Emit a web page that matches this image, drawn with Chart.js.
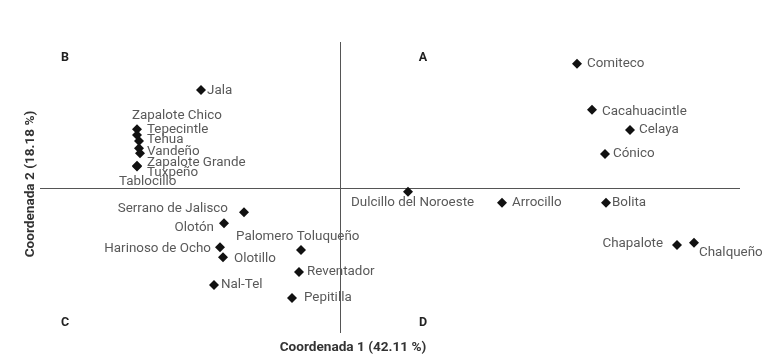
<!DOCTYPE html>
<html>
<head>
<meta charset="utf-8">
<script src="https://cdn.jsdelivr.net/npm/chart.js@4.4.0/dist/chart.umd.min.js"></script>
<style>
  html, body { margin: 0; padding: 0; background: #fff; }
  #wrap { width: 779px; height: 357px; }
</style>
</head>
<body>
<div id="wrap"><canvas id="chart" width="779" height="357"></canvas></div>
<script>
// races (varieties) and their coordinates on the two first axes
const names = [
  "Jala", "Zapalote Chico", "Tepecintle", "Tehua", "Vandeño", "Zapalote Grande", "Tuxpeño", "Tablocillo",
  "Serrano de Jalisco", "Olotón", "Palomero Toluqueño", "Harinoso de Ocho", "Olotillo", "Reventador", "Nal-Tel", "Pepitilla",
  "Dulcillo del Noroeste", "Arrocillo", "Bolita", "Comiteco", "Cacahuacintle", "Celaya", "Cónico", "Chapalote", "Chalqueño"
];
const coord1 = [
  -1.39, -2.03, -2.03, -2.01, -2.01, -2.00, -2.03, -2.03,
  -0.96, -1.16, -0.39, -1.20, -1.17, -0.41, -1.26, -0.48,
  0.68, 1.62, 2.66, 2.37, 2.52, 2.90, 2.65, 3.37, 3.54
];
const coord2 = [
  1.34, 0.80, 0.72, 0.64, 0.54, 0.47, 0.30, 0.29,
  -0.34, -0.49, -0.86, -0.82, -0.96, -1.16, -1.34, -1.52,
  -0.06, -0.21, -0.21, 1.70, 1.07, 0.79, 0.46, -0.79, -0.76
];

// label placement next to each marker: [dx, dy, align]
const labelPlace = [
  [6, 1, "left"], [-5, -14, "left"], [10, -5, "left"], [8, -1, "left"], [8, 3, "left"], [7, 9, "left"], [10, 7, "left"], [-18, 15, "left"],
  [-16, -4, "right"], [-10, 5, "right"], [-65, -13, "left"], [-9, 2, "right"], [11, 1, "left"], [8, 0, "left"], [7, 0, "left"], [12, 0, "left"],
  [-57, 11, "left"], [10, 0, "left"], [6, 0, "left"], [10, 0, "left"], [10, 2, "left"], [9, 0, "left"], [8, 0, "left"], [-14, -1, "right"], [5, 10, "left"]
];

const quadrants = ["A", "B", "C", "D"];

const points = coord1.map((x, i) => ({ x: x, y: coord2[i] }));

const biplotText = {
  id: "biplotText",
  beforeDatasetsDraw(chart) {
    const ctx = chart.ctx;
    const xs = chart.scales.x, ys = chart.scales.y;
    const x0 = xs.getPixelForValue(0), y0 = ys.getPixelForValue(0);
    ctx.save();
    ctx.strokeStyle = "#555";
    ctx.lineWidth = 1;
    ctx.beginPath();
    ctx.moveTo(xs.left, Math.round(y0) + 0.5);
    ctx.lineTo(xs.right, Math.round(y0) + 0.5);
    ctx.moveTo(Math.round(x0) + 0.5, ys.top);
    ctx.lineTo(Math.round(x0) + 0.5, ys.bottom);
    ctx.stroke();
    ctx.restore();
  },
  afterDatasetsDraw(chart) {
    const ctx = chart.ctx;
    const meta = chart.getDatasetMeta(0);
    ctx.save();
    ctx.font = "13.4px Roboto";
    ctx.fillStyle = "#595959";
    ctx.textBaseline = "middle";
    meta.data.forEach((pt, i) => {
      const p = labelPlace[i];
      ctx.textAlign = p[2];
      ctx.fillText(names[i], pt.x + p[0], pt.y + p[1]);
    });

    // quadrant letters
    ctx.font = "bold 12.5px Roboto";
    ctx.fillStyle = "#222";
    ctx.textAlign = "center";
    ctx.fillText(quadrants[0], 423, 58);
    ctx.fillText(quadrants[1], 65, 58);
    ctx.fillText(quadrants[2], 65, 323);
    ctx.fillText(quadrants[3], 423, 323);

    // axis titles
    ctx.font = "bold 13.6px Roboto";
    ctx.fillStyle = "#333";
    ctx.fillText("Coordenada 1 (42.11 %)", 353, 348);
    ctx.translate(31, 184);
    ctx.rotate(-Math.PI / 2);
    ctx.fillText("Coordenada 2 (18.18 %)", 0, 0);
    ctx.restore();
  }
};

new Chart(document.getElementById("chart"), {
  type: "scatter",
  data: {
    datasets: [{
      data: points,
      pointStyle: "rectRot",
      pointRadius: 5,
      pointHoverRadius: 5,
      backgroundColor: "#111",
      borderColor: "#111",
      borderWidth: 0
    }]
  },
  options: {
    responsive: false,
    animation: false,
    layout: { padding: { left: 40, right: 39, top: 42, bottom: 24 } },
    plugins: { legend: { display: false }, tooltip: { enabled: false } },
    scales: {
      x: { display: false, min: -3, max: 4 },
      y: { display: false, min: -2, max: 2 }
    }
  },
  plugins: [biplotText]
});
</script>
</body>
</html>
